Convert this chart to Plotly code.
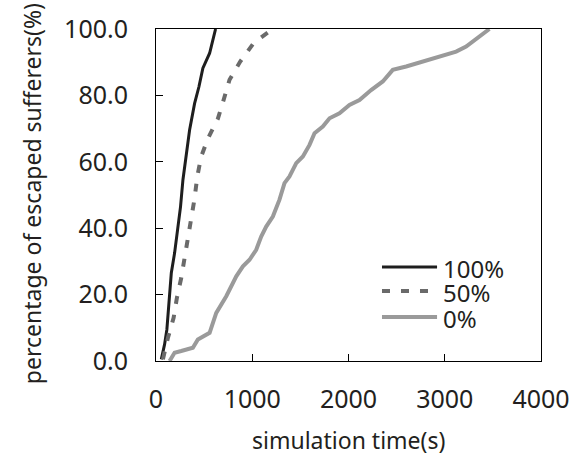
import plotly.graph_objects as go

# 100% series
t100 = [55, 89, 113, 159, 193, 255, 280, 315, 349, 401, 446, 487, 557, 574, 619]
p100 = [0.5, 5, 9.5, 26.5, 32.5, 46.5, 54.6, 62.6, 69.6, 77.6, 82.6, 88.2, 92.7, 94.7, 100]

# 50% series
t50 = [72, 124, 183, 217, 262, 297, 331, 377, 401, 429, 470, 539, 643, 702, 764, 875, 1013, 1197, 1232]
p50 = [0.5, 7, 13, 19, 25, 31, 37, 43.5, 49, 55.6, 61.6, 67, 73, 78.6, 84.7, 90.2, 95.7, 99.7, 100]

# 0% series
t0 = [141, 193, 262, 383, 435, 557, 626, 730, 834, 903, 972, 1041, 1093, 1145, 1214, 1283,
      1335, 1387, 1457, 1526, 1595, 1647, 1733, 1803, 1906, 2010, 2114, 2235, 2356, 2460,
      2599, 2772, 2945, 3118, 3222, 3326, 3464]
p0 = [0, 2.5, 3, 4, 6.5, 8.5, 14.5, 19.5, 25.5, 28.5, 30.5, 33.5, 37.5, 40.5, 43.5, 48.6,
      53.6, 55.6, 59.6, 61.6, 65.1, 68.6, 70.6, 73.1, 74.6, 77.1, 78.6, 81.6, 84.2, 87.7,
      88.7, 90.2, 91.5, 93.2, 94.7, 97.1, 100]

series_names = ["100%", "50%", "0%"]
x_ticks = [0, 1000, 2000, 3000, 4000]
y_ticks = [0, 20, 40, 60, 80, 100]

FONT = "Noto Sans"
TXT = "#231f20"
colors = ["#1e1e1e", "#6a6a6a", "#9a9a9a"]
widths = [3, 4, 4]
dashes = ["solid", "8px,11px", "solid"]

fig = go.Figure()
for xs, ys, name, c, w, d in zip([t100, t50, t0], [p100, p50, p0], series_names,
                                  colors, widths, dashes):
    fig.add_trace(go.Scatter(x=xs, y=ys, mode="lines", name=name,
                             line=dict(color=c, width=w, dash=d), showlegend=False))

axis_common = dict(showline=True, linecolor="black", linewidth=1, mirror=True,
                   ticks="inside", ticklen=7, tickcolor="black", tickwidth=1,
                   showgrid=False, zeroline=False, automargin=False,
                   tickfont=dict(family=FONT, size=25, color=TXT))

fig.update_xaxes(range=[0, 4000], tickvals=x_ticks, ticktext=[str(v) for v in x_ticks],
                 ticklabelstandoff=16, **axis_common)
fig.update_yaxes(range=[0, 100], tickvals=y_ticks, ticktext=[f"{v:.1f}" for v in y_ticks],
                 ticklabelstandoff=22, **axis_common)

fig.add_annotation(text="simulation time(s)", xref="paper", yref="paper",
                   x=0.5, y=-0.238, xanchor="center", yanchor="middle", showarrow=False,
                   font=dict(family=FONT, size=23, color=TXT))
fig.add_annotation(text="percentage of escaped sufferers(%)", xref="paper", yref="paper",
                   x=-0.32, y=0.505, xanchor="center", yanchor="middle", showarrow=False,
                   textangle=-90, font=dict(family=FONT, size=23, color=TXT))

# legend (drawn manually for compact spacing and long line samples)
leg_y = [0.283, 0.211, 0.1325]
for name, c, w, d, yy in zip(series_names, colors, widths, dashes, leg_y):
    fig.add_shape(type="line", xref="paper", yref="paper", x0=0.587, x1=0.730, y0=yy, y1=yy,
                  line=dict(color=c, width=w, dash=d))
    fig.add_annotation(text=name, xref="paper", yref="paper", x=0.74, y=yy - 0.005,
                       xanchor="left", yanchor="middle", showarrow=False,
                       font=dict(family=FONT, size=24, color=TXT))

fig.update_layout(
    width=570, height=458,
    margin=dict(l=156, r=29, t=29, b=97),
    paper_bgcolor="white", plot_bgcolor="white",
    showlegend=False,
)

fig.write_html("out.html", config={"displayModeBar": False},
               post_script="document.body.style.margin='0';document.body.style.padding='0';")
